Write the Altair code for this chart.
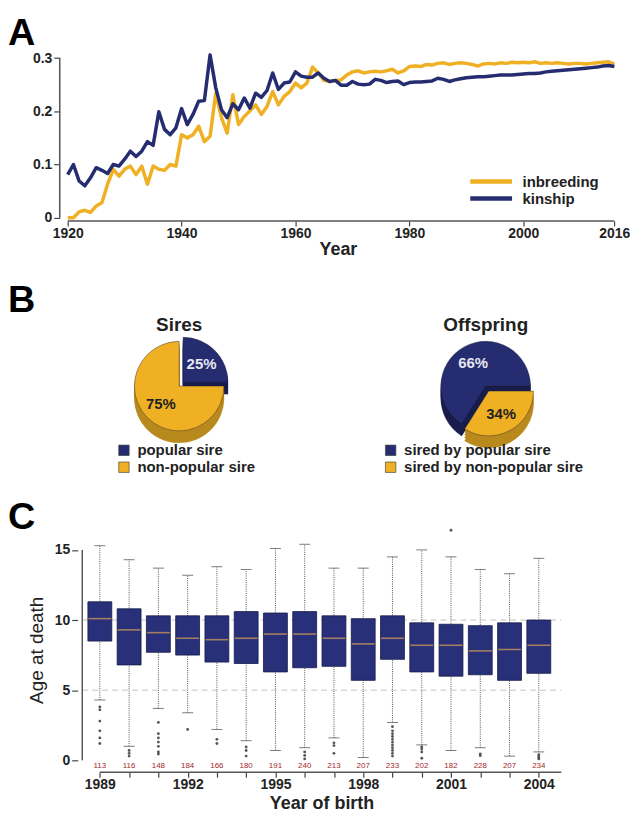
import math
import altair as alt
import pandas as pd

FONT = "Liberation Sans"
NAVY = "#252d70"
NAVY_SIDE = "#181d4c"
GOLD = "#efb024"
GOLD_SIDE = "#b8891c"
INK = "#222222"

# ---------------- Panel A data ----------------
years_a = list(range(1920, 2017))
inbreeding = [
    0.000, 0.000, 0.011, 0.014, 0.010, 0.022, 0.028, 0.063, 0.091, 0.078,
    0.091, 0.097, 0.081, 0.097, 0.063, 0.097, 0.091, 0.089, 0.100, 0.097,
    0.156, 0.150, 0.156, 0.172, 0.143, 0.153, 0.234, 0.188, 0.159, 0.231,
    0.175, 0.190, 0.201, 0.212, 0.194, 0.209, 0.237, 0.212, 0.228, 0.237,
    0.253, 0.244, 0.253, 0.283, 0.272, 0.258, 0.256, 0.258, 0.259, 0.268,
    0.274, 0.276, 0.272, 0.274, 0.275, 0.274, 0.276, 0.279, 0.272, 0.276,
    0.284, 0.285, 0.284, 0.288, 0.287, 0.290, 0.291, 0.288, 0.290, 0.291,
    0.290, 0.288, 0.285, 0.289, 0.290, 0.289, 0.291, 0.290, 0.292, 0.291,
    0.292, 0.291, 0.293, 0.290, 0.291, 0.290, 0.291, 0.290, 0.289, 0.290,
    0.290, 0.289, 0.290, 0.291, 0.292, 0.293, 0.288,
]
kinship = [
    0.081, 0.100, 0.069, 0.060, 0.075, 0.094, 0.089, 0.083, 0.100, 0.097,
    0.110, 0.125, 0.115, 0.125, 0.143, 0.136, 0.199, 0.166, 0.156, 0.169,
    0.205, 0.175, 0.194, 0.219, 0.220, 0.306, 0.244, 0.203, 0.188, 0.214,
    0.203, 0.225, 0.206, 0.234, 0.226, 0.239, 0.272, 0.241, 0.253, 0.255,
    0.274, 0.266, 0.264, 0.264, 0.272, 0.262, 0.256, 0.258, 0.249, 0.249,
    0.256, 0.251, 0.250, 0.251, 0.260, 0.258, 0.254, 0.256, 0.257, 0.250,
    0.254, 0.255, 0.255, 0.256, 0.257, 0.262, 0.260, 0.256, 0.259, 0.261,
    0.263, 0.264, 0.265, 0.265, 0.266, 0.267, 0.268, 0.268, 0.268, 0.269,
    0.270, 0.271, 0.271, 0.272, 0.274, 0.275, 0.276, 0.277, 0.278, 0.279,
    0.280, 0.281, 0.282, 0.283, 0.285, 0.286, 0.284,
]
series_a = ["inbreeding", "kinship"]
xticks_a = [1920, 1940, 1960, 1980, 2000, 2016]
yticks_a = [0, 0.1, 0.2, 0.3]

# ---------------- Panel B data ----------------
sires_labels = ["popular sire", "non-popular sire"]
sires_pct = [25, 75]
offspring_labels = ["sired by popular sire", "sired by non-popular sire"]
offspring_pct = [66, 34]

# ---------------- Panel C data ----------------
years_c = list(range(1989, 2005))
whisk_hi = [15.3, 14.3, 13.7, 13.2, 13.8, 13.6, 15.1, 15.4, 13.7, 13.7, 14.5, 15.0, 14.5, 13.6, 13.3, 14.4]
q3 = [11.3, 10.8, 10.3, 10.3, 10.3, 10.6, 10.5, 10.6, 10.3, 10.1, 10.3, 9.8, 9.7, 9.6, 9.8, 10.0]
median = [10.1, 9.3, 9.1, 8.7, 8.6, 8.7, 9.0, 9.0, 8.7, 8.3, 8.7, 8.2, 8.2, 7.8, 7.9, 8.2]
q1 = [8.5, 6.8, 7.7, 7.5, 7.0, 6.9, 6.3, 6.6, 6.7, 5.7, 7.2, 6.3, 6.0, 6.1, 5.7, 6.2]
whisk_lo = [4.3, 1.0, 3.7, 3.4, 2.2, 1.4, 0.7, 0.9, 1.6, 0.2, 2.7, 1.1, 0.7, 0.9, 0.3, 0.6]
counts = [113, 116, 148, 184, 166, 180, 191, 240, 213, 207, 233, 202, 182, 228, 207, 234]
outliers = [
    [3.8, 3.6, 2.8, 2.1, 1.6, 1.2],
    [0.7, 0.5, 0.3],
    [2.7, 1.9, 1.6, 1.3, 1.0, 0.6, 0.45],
    [2.2],
    [1.5, 1.2],
    [0.95, 0.7, 0.3],
    [],
    [0.6, 0.35, 0.1],
    [1.25, 1.05, 0.5],
    [],
    [2.4, 2.1, 1.9, 1.7, 1.5, 1.3, 1.1, 0.9, 0.7, 0.5, 0.3],
    [0.95, 0.8, 0.6, 0.15],
    [16.4],
    [0.45, 0.33],
    [],
    [0.4, 0.3, 0.2, 0.1],
]

one = pd.DataFrame({"k": [0]})


def letter(t, dx, dy):
    return alt.Chart(one).mark_text(
        text=t, fontSize=38, fontWeight="bold", font=FONT, color="#000",
        align="left", baseline="top").encode(x=alt.value(dx), y=alt.value(dy))


def heading(t, cx, dy):
    return alt.Chart(one).mark_text(
        text=t, fontSize=19, fontWeight="bold", font=FONT, color=INK,
        align="center", baseline="alphabetic").encode(x=alt.value(cx), y=alt.value(dy))


# ================= Panel A =================
dfa = pd.DataFrame({
    "Year": years_a + years_a,
    "value": inbreeding + kinship,
    "series": [series_a[0]] * len(years_a) + [series_a[1]] * len(years_a),
})
WA, HA = 559, 169
xa_scale = alt.Scale(domain=[1918.6, 2016.3], nice=False, zero=False)
ya_scale = alt.Scale(domain=[-0.006, 0.31], nice=False, zero=False)
xa_axis = alt.Axis(values=xticks_a, format="d", title="Year", domain=False, grid=False,
                   tickSize=5, tickColor="#444", tickWidth=1.2, labelOverlap=False,
                   labelFontSize=14, labelFontWeight="bold", labelColor=INK, labelPadding=1,
                   titleFontSize=18, titleFontWeight="bold", titleColor=INK, titlePadding=0)
ya_axis = alt.Axis(values=yticks_a, labelExpr="datum.value == 0 ? '0' : format(datum.value, '.1f')",
                   title=None, domain=False, grid=False, tickSize=6, tickColor="#444", tickWidth=1.2,
                   labelFontSize=14, labelFontWeight="bold", labelColor=INK, labelPadding=2)

lines = alt.Chart(dfa).mark_line(strokeWidth=3.5, strokeJoin="round").encode(
    x=alt.X("Year:Q", scale=xa_scale, axis=xa_axis, title="Year"),
    y=alt.Y("value:Q", scale=ya_scale, axis=ya_axis, title=None),
    color=alt.Color("series:N", scale=alt.Scale(domain=series_a, range=[GOLD, NAVY]),
                    legend=alt.Legend(orient="none", legendX=410, legendY=121, title=None,
                                      symbolType="stroke", symbolSize=1764, symbolStrokeWidth=4.5,
                                      clipHeight=17, rowPadding=0,
                                      labelFontSize=15, labelFontWeight="bold", labelColor=INK,
                                      labelOffset=8)),
)
xline_a = alt.Chart(one).mark_rule(color="#555", strokeWidth=1.5).encode(
    x=alt.XDatum(1920, scale=xa_scale, axis=xa_axis, title="Year"), x2=alt.X2Datum(2016),
    y=alt.YDatum(-0.006, scale=ya_scale, axis=ya_axis, title=None))
yline_a = alt.Chart(one).mark_rule(color="#555", strokeWidth=1.5).encode(
    x=alt.value(0), y=alt.YDatum(0, scale=ya_scale, axis=ya_axis, title=None), y2=alt.Y2Datum(0.3))

panel_a = alt.layer(lines, xline_a, yline_a, letter("A", -52, -38)).properties(width=WA, height=HA)

# ================= Panel B =================
R = 45


def pie(labels, pct, start_angle, explode_idx, ex_dx, ex_dy, legend_x, text_colors, width, extras):
    rows = []
    acc = 0
    for lab, p in zip(labels, pct):
        rows.append({"label": lab, "start": acc, "end": acc + p, "mid": acc + p / 2, "txt": f"{p}%"})
        acc += p
    df = pd.DataFrame(rows)
    th = alt.Scale(domain=[0, 100], range=[start_angle, start_angle + 2 * math.pi])
    sides = [NAVY_SIDE, GOLD_SIDE]
    layers = []
    for k in [12, 9, 6, 3]:
        for i, lab in enumerate(labels):
            dx, dy = (ex_dx, ex_dy) if i == explode_idx else (0, 0)
            layers.append(
                alt.Chart(df).transform_filter(alt.datum.label == lab)
                .mark_arc(radius=R, xOffset=dx, yOffset=dy + k, stroke=sides[i], strokeWidth=0.5)
                .encode(theta=alt.Theta("start:Q", scale=th, stack=False), theta2="end:Q",
                        color=alt.value(sides[i]))
            )
    for i, lab in enumerate(labels):
        dx, dy = (ex_dx, ex_dy) if i == explode_idx else (0, 0)
        layers.append(
            alt.Chart(df).transform_filter(alt.datum.label == lab)
            .mark_arc(radius=R, xOffset=dx, yOffset=dy, stroke="#1a1a33", strokeWidth=0.4)
            .encode(theta=alt.Theta("start:Q", scale=th, stack=False), theta2="end:Q",
                    color=alt.Color("label:N", scale=alt.Scale(domain=labels, range=[NAVY, GOLD]),
                                    legend=alt.Legend(orient="none", legendX=legend_x, legendY=106,
                                                      title=None, symbolType="square", symbolSize=110,
                                                      symbolStrokeColor="#333", symbolStrokeWidth=0.6,
                                                      labelFontSize=15, labelFontWeight="bold",
                                                      labelColor=INK, labelOffset=6, rowPadding=1,
                                                      labelLimit=400)))
        )
    for i, lab in enumerate(labels):
        dx, dy = (ex_dx, ex_dy) if i == explode_idx else (0, 0)
        layers.append(
            alt.Chart(df).transform_filter(alt.datum.label == lab)
            .mark_text(radius=R * 0.58, xOffset=dx, yOffset=dy, fontSize=15, fontWeight="bold", font=FONT)
            .encode(theta=alt.Theta("mid:Q", scale=th, stack=False), text="txt:N",
                    color=alt.value(text_colors[i]))
        )
    layers.extend(extras)
    return alt.layer(*layers).properties(width=width, height=98)


pie_sires = pie(sires_labels, sires_pct, 0.0, 0, 4, -4, 57, ["#e6e6f0", "#222222"], 240,
                [heading("Sires", 120, -6), letter("B", -52, -55)])
pie_off = pie(offspring_labels, offspring_pct,
              math.pi / 2 - 2 * math.pi * offspring_pct[0] / 100, 1, 3, 5, 7, ["#e6e6f0", "#222222"],
              220, [heading("Offspring", 110, -6)])

panel_b = alt.hconcat(pie_sires, pie_off, spacing=78).resolve_scale(
    color="independent", theta="independent")

# ================= Panel C =================
dfc = pd.DataFrame({"Year": years_c, "hi": whisk_hi, "q3": q3, "med": median,
                    "q1": q1, "lo": whisk_lo, "n": counts})
dfo = pd.DataFrame([{"Year": y, "v": v} for y, vs in zip(years_c, outliers) for v in vs])
WC, HC = 509, 246
xc_scale = alt.Scale(domain=[1987.8, 2004.77], nice=False, zero=False)
yc_scale = alt.Scale(domain=[-0.85, 16.6], nice=False, zero=False)
xc_axis = alt.Axis(values=years_c, format="d", labelExpr="datum.value % 3 == 0 ? datum.label : ''",
                   title="Year of birth", domain=False, grid=False, tickSize=5, tickColor="#444",
                   tickWidth=1.2, labelFontSize=14, labelFontWeight="bold", labelColor=INK,
                   labelPadding=0, labelOverlap=False, labelBound=False, labelFlush=False,
                   titleFontSize=18, titleFontWeight="bold",
                   titleColor=INK, titlePadding=3, titleX=263)
yc_axis = alt.Axis(values=[0, 5, 10, 15], title="Age at death", domain=False, grid=False,
                   offset=-18, tickSize=6, tickColor="#444", tickWidth=1.2, labelFontSize=14,
                   labelFontWeight="bold", labelColor=INK, labelPadding=2, labelOverlap=False,
                   titleFontSize=19, titleFontWeight="normal", titleColor=INK, titlePadding=8)


def XC(f):
    return alt.X(f"{f}:Q", scale=xc_scale, axis=xc_axis, title="Year of birth")


def YC(f):
    return alt.Y(f"{f}:Q", scale=yc_scale, axis=yc_axis, title="Age at death")


def XCD(v):
    return alt.XDatum(v, scale=xc_scale, axis=xc_axis, title="Year of birth")


def YCD(v):
    return alt.YDatum(v, scale=yc_scale, axis=yc_axis, title="Age at death")


grid_c = alt.Chart(pd.DataFrame({"g": [5, 10]})).mark_rule(
    color="#c4c4c4", strokeDash=[6, 4], strokeWidth=1).encode(
    x=XCD(1988.4), x2=alt.X2Datum(2004.77), y=YC("g"))
whiskers = alt.Chart(dfc).mark_rule(color="#555", strokeDash=[1, 1.2], strokeWidth=1).encode(
    x=XC("Year"), y=YC("lo"), y2="hi:Q")
cap_hi = alt.Chart(dfc).mark_tick(orient="horizontal", size=11, thickness=1, color="#444").encode(
    x=XC("Year"), y=YC("hi"))
cap_lo = alt.Chart(dfc).mark_tick(orient="horizontal", size=11, thickness=1, color="#444").encode(
    x=XC("Year"), y=YC("lo"))
boxes = alt.Chart(dfc).mark_bar(size=24, color="#28307a", stroke="#141a48", strokeWidth=0.8).encode(
    x=XC("Year"), y=YC("q1"), y2="q3:Q")
meds = alt.Chart(dfc).mark_tick(orient="horizontal", size=23, thickness=1.6, color="#d9a055").encode(
    x=XC("Year"), y=YC("med"))
outl = alt.Chart(dfo).mark_circle(size=8, color="#555", opacity=1).encode(x=XC("Year"), y=YC("v"))
cnt = alt.Chart(dfc).mark_text(fontSize=8, color="#a3282c", font=FONT).encode(
    x=XC("Year"), y=YCD(-0.4), text="n:Q")
xline_c = alt.Chart(one).mark_rule(color="#555", strokeWidth=1.5).encode(
    x=XCD(1989), x2=alt.X2Datum(2004.77), y=YCD(-0.85))
yline_c = alt.Chart(one).mark_rule(color="#555", strokeWidth=1.5).encode(
    x=XCD(1988.4), y=YCD(0), y2=alt.Y2Datum(15))

panel_c = alt.layer(whiskers, grid_c, cap_hi, cap_lo, boxes, meds, outl, cnt, xline_c, yline_c,
                    letter("C", -52, -28)).properties(width=WC, height=HC)

chart = alt.vconcat(panel_a, panel_b, panel_c, spacing=24).properties(
    padding={"left": 0, "top": 5, "right": 0, "bottom": 0}
).configure_view(stroke=None).configure_axis(labelFont=FONT, titleFont=FONT).configure_legend(
    labelFont=FONT).configure_title(font=FONT).configure_text(font=FONT)

chart.save("out.html", embed_options={"renderer": "svg", "actions": False})
